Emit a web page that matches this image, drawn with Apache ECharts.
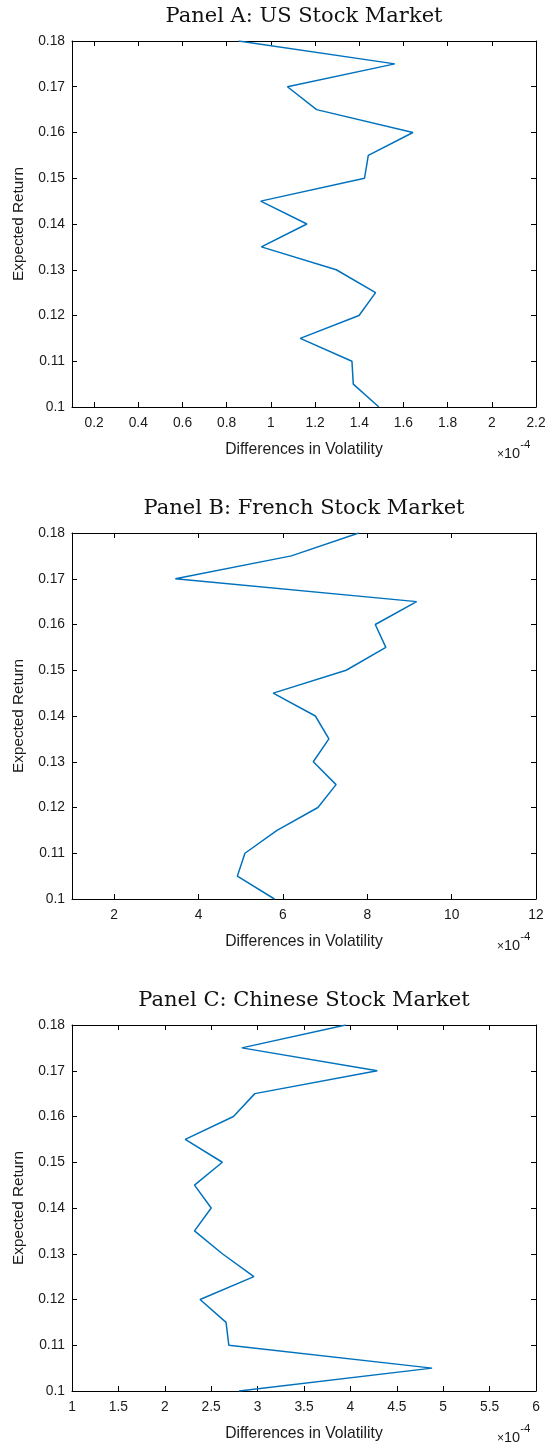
<!DOCTYPE html>
<html>
<head>
<meta charset="utf-8">
<script src="https://cdn.jsdelivr.net/npm/echarts@6/dist/echarts.min.js"></script>
<style>
  html, body { margin: 0; padding: 0; background: #fff; }
  #chart { width: 553px; height: 1447px; }
</style>
</head>
<body>
<div id="chart"></div>
<script>
// Expected return levels (shared vertical axis for all panels)
const returnLevels = [0.1, 0.105, 0.11, 0.115, 0.12, 0.125, 0.13, 0.135, 0.14,
                      0.145, 0.15, 0.155, 0.16, 0.165, 0.17, 0.175, 0.18];

// Differences in volatility (units of 1e-4), one value per return level
const usVol = [1.489, 1.373, 1.367, 1.133, 1.399, 1.474, 1.296, 0.957, 1.163,
               0.954, 1.424, 1.441, 1.643, 1.207, 1.075, 1.561, 0.854];
const frVol = [5.80, 4.92, 5.10, 5.86, 6.83, 7.26, 6.72, 7.09, 6.77,
               5.77, 7.50, 8.44, 8.19, 9.17, 3.45, 6.20, 7.80];
const cnVol = [2.80, 4.88, 2.69, 2.66, 2.38, 2.96, 2.62, 2.32, 2.50,
               2.32, 2.62, 2.22, 2.74, 2.97, 4.29, 2.83, 3.95];

// Panel titles
const panelTitles = ['Panel A: US Stock Market',
                     'Panel B: French Stock Market',
                     'Panel C: Chinese Stock Market'];

// Horizontal axis ranges and tick labels
const usTicks = [0.2, 0.4, 0.6, 0.8, 1, 1.2, 1.4, 1.6, 1.8, 2, 2.2];
const frTicks = [2, 4, 6, 8, 10, 12];
const cnTicks = [1, 1.5, 2, 2.5, 3, 3.5, 4, 4.5, 5, 5.5, 6];
const xRanges = [[0.1, 2.2], [1, 12], [1, 6]];

const panels = [
  { title: panelTitles[0], vol: usVol, ticks: usTicks, range: xRanges[0] },
  { title: panelTitles[1], vol: frVol, ticks: frTicks, range: xRanges[1] },
  { title: panelTitles[2], vol: cnVol, ticks: cnTicks, range: xRanges[2] }
];

const sansFont = 'Liberation Sans';
const serifFont = 'DejaVu Serif';
const lineColor = '#0072BD';
const textColor = '#1a1a1a';
const gridTops = [41, 533, 1025];
const gridLeft = 72, gridWidth = 464, gridHeight = 366;

const grid = [], xAxis = [], yAxis = [], series = [], title = [];

panels.forEach((p, i) => {
  const top = gridTops[i];
  grid.push({ left: gridLeft, top: top, width: gridWidth, height: gridHeight });

  title.push({
    text: p.title,
    left: gridLeft + gridWidth / 2,
    top: top - 35,
    padding: 0,
    textAlign: 'center',
    textStyle: { fontFamily: serifFont, fontSize: 21, fontWeight: 'normal', color: '#111' }
  });
  // exponent marker below the right end of the horizontal axis
  title.push({
    text: '{x|×}{b|10}{s|-4}',
    left: gridLeft + gridWidth - 39,
    top: top + gridHeight + 32,
    padding: 0,
    textStyle: {
      fontWeight: 'normal',
      rich: {
        x: { fontFamily: sansFont, fontSize: 12, fontWeight: 'normal', color: textColor, lineHeight: 22, verticalAlign: 'bottom' },
        b: { fontFamily: sansFont, fontSize: 14.5, fontWeight: 'normal', color: textColor, lineHeight: 22, verticalAlign: 'bottom' },
        s: { fontFamily: sansFont, fontSize: 11.5, fontWeight: 'normal', color: textColor, lineHeight: 22, verticalAlign: 'top' }
      }
    }
  });

  const axisLine = { show: true, onZero: false, lineStyle: { color: '#000', width: 1 } };
  const tickStyle = { show: true, inside: true, length: 5, lineStyle: { color: '#000', width: 1 } };

  xAxis.push({
    gridIndex: i, type: 'value', position: 'bottom',
    min: p.range[0], max: p.range[1],
    axisLine: axisLine,
    axisTick: Object.assign({ customValues: p.ticks }, tickStyle),
    axisLabel: { customValues: p.ticks, fontFamily: sansFont, fontSize: 13.8, color: textColor, margin: 9 },
    splitLine: { show: false },
    name: 'Differences in Volatility',
    nameLocation: 'middle', nameGap: 35,
    nameTextStyle: { fontFamily: sansFont, fontSize: 15.7, color: textColor }
  });
  xAxis.push({
    gridIndex: i, type: 'value', position: 'top',
    min: p.range[0], max: p.range[1],
    axisLine: axisLine,
    axisTick: Object.assign({ customValues: p.ticks }, tickStyle),
    axisLabel: { show: false },
    splitLine: { show: false }
  });
  yAxis.push({
    gridIndex: i, type: 'value', position: 'left',
    min: 0.1, max: 0.18, interval: 0.01,
    axisLine: axisLine, axisTick: tickStyle,
    axisLabel: { fontFamily: sansFont, fontSize: 13.8, color: textColor, margin: 7 },
    splitLine: { show: false },
    name: 'Expected Return',
    nameLocation: 'middle', nameGap: 46,
    nameTextStyle: { fontFamily: sansFont, fontSize: 15.3, color: textColor }
  });
  yAxis.push({
    gridIndex: i, type: 'value', position: 'right',
    min: 0.1, max: 0.18, interval: 0.01,
    axisLine: axisLine, axisTick: tickStyle,
    axisLabel: { show: false },
    splitLine: { show: false }
  });

  series.push({
    type: 'line',
    xAxisIndex: i * 2, yAxisIndex: i * 2,
    data: p.vol.map((v, k) => [v, returnLevels[k]]),
    showSymbol: false, symbol: 'none',
    lineStyle: { color: lineColor, width: 1.5 },
    animation: false
  });
});

const chart = echarts.init(document.getElementById('chart'), null, { renderer: 'canvas' });
chart.setOption({
  backgroundColor: '#fff',
  animation: false,
  title: title, grid: grid, xAxis: xAxis, yAxis: yAxis, series: series
});
</script>
</body>
</html>
